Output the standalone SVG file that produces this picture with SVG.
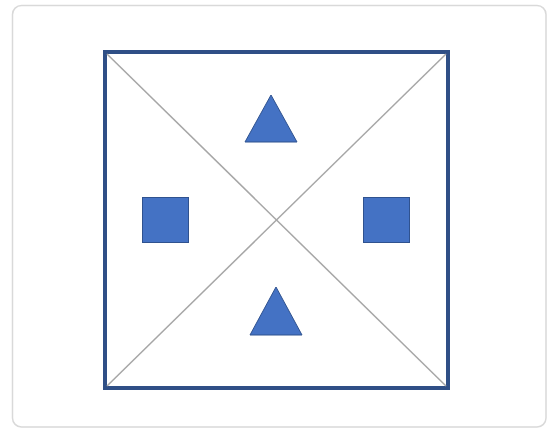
<svg xmlns="http://www.w3.org/2000/svg" width="547" height="428" viewBox="0 0 547 428">
<style>
.card{fill:#ffffff;stroke:#d9d9d9;stroke-width:1.5}
.frame{fill:none;stroke:#2f4f86;stroke-width:4}
.diag{stroke:#a6a6a6;stroke-width:1.5}
.shape{fill:#4472c4;stroke:#2f528f;stroke-width:1}
</style>
<rect width="547" height="428" fill="#ffffff"/>
<rect class="card" x="12.5" y="5.5" width="533.5" height="421.5" rx="9"/>
<g id="frame">
<rect class="frame" x="105" y="52" width="343" height="336"/>
</g>
<g id="connectors">
<line class="diag" x1="107" y1="54" x2="446" y2="386"/>
<line class="diag" x1="446" y1="54" x2="107" y2="386"/>
</g>
<g id="triangle-top"><polygon class="shape" points="271,95 245,142 297,142"/></g>
<g id="square-left"><rect class="shape" x="142.5" y="197.5" width="46" height="45"/></g>
<g id="square-right"><rect class="shape" x="363.5" y="197.5" width="46" height="45"/></g>
<g id="triangle-bottom"><polygon class="shape" points="276,287 250,335 302,335"/></g>
</svg>
